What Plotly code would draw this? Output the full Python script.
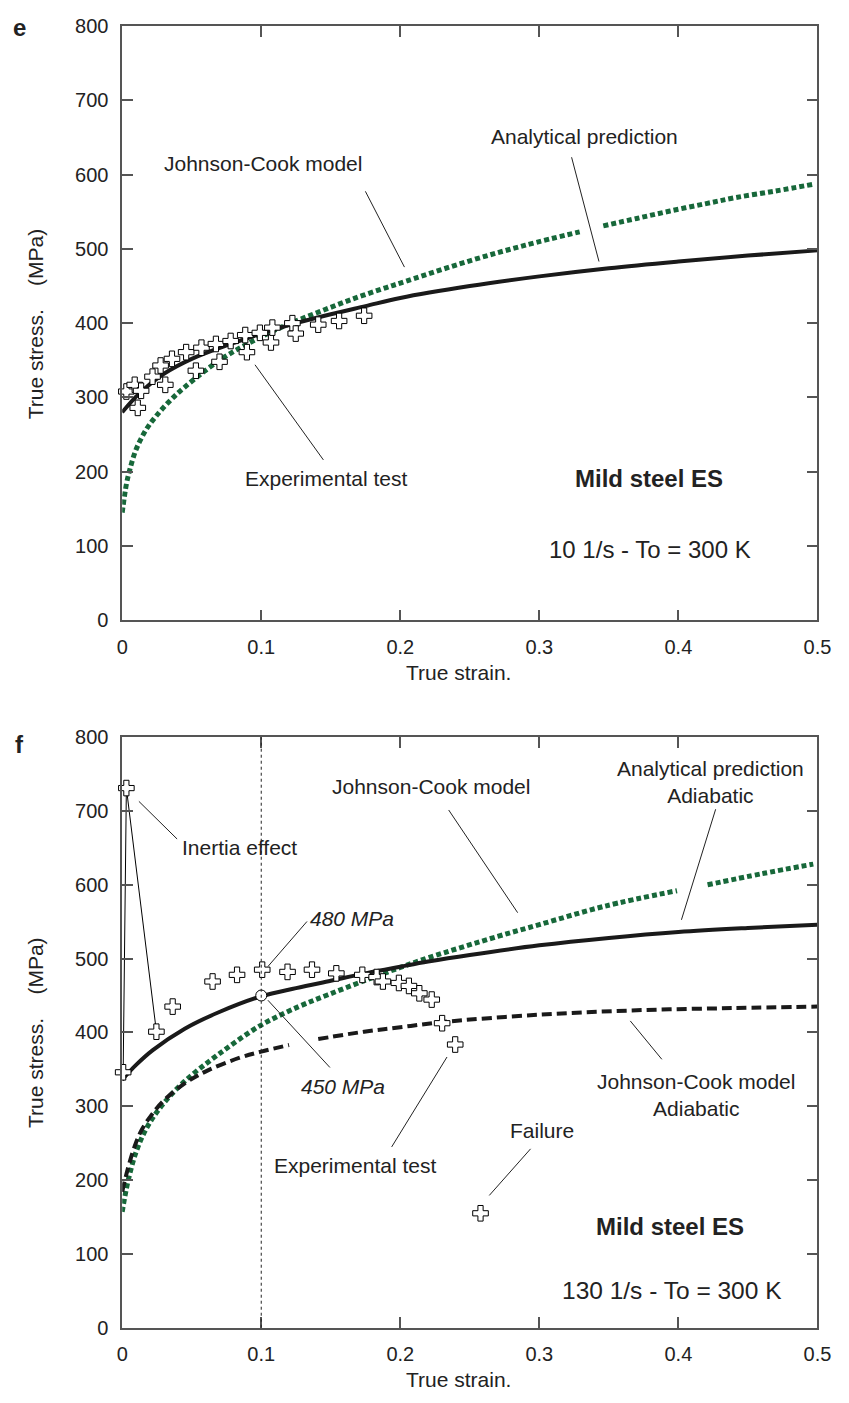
import plotly.graph_objects as go

# ---------------- panel e : 10 1/s ----------------
jc_e_strain_a = [0, 0.003, 0.0055, 0.01, 0.017, 0.024, 0.0335, 0.045, 0.07, 0.09,
                 0.115, 0.14, 0.165, 0.19, 0.2, 0.25, 0.29, 0.329]
jc_e_stress_a = [145, 183, 203, 230, 256, 274, 294, 314, 350, 372,
                 395, 414, 432, 448, 454, 484, 505, 523]
jc_e_strain_b = [0.346, 0.37, 0.394, 0.42, 0.441, 0.47, 0.497]
jc_e_stress_b = [531, 541, 551, 561, 569, 578, 587]

an_e_strain = [0, 0.01, 0.02, 0.03, 0.05, 0.075, 0.1, 0.125, 0.15, 0.175,
               0.2, 0.25, 0.3, 0.35, 0.4, 0.45, 0.5]
an_e_stress = [280, 301, 318, 332, 352, 370, 386, 400, 412, 423,
               434, 450, 463, 474, 483, 491, 498]

exp_e_strain = [0.003, 0.009, 0.0136, 0.0112, 0.0218, 0.0276, 0.031, 0.0358, 0.046,
                0.057, 0.053, 0.0674, 0.07, 0.078, 0.0885, 0.0897, 0.099, 0.107,
                0.108, 0.1224, 0.1248, 0.141, 0.156, 0.174]
exp_e_stress = [308, 317, 309, 286, 328, 343, 317, 352, 361,
                367, 336, 372, 348, 376, 384, 361, 387, 374,
                394, 400, 386, 398, 403, 410]

# ---------------- panel f : 130 1/s ----------------
jc_f_strain_a = [0, 0.004, 0.01, 0.018, 0.029, 0.045, 0.069, 0.1, 0.127, 0.148,
                 0.174, 0.2, 0.22, 0.27, 0.3, 0.347, 0.399]
jc_f_stress_a = [157, 197, 238, 272, 302, 334, 370, 410, 435, 451,
                 470, 488, 501, 530, 546, 571, 592]
jc_f_strain_b = [0.421, 0.46, 0.497]
jc_f_stress_b = [600, 615, 628]

an_f_strain = [0, 0.01, 0.022, 0.045, 0.069, 0.1, 0.125, 0.15, 0.175, 0.2,
               0.22, 0.25, 0.3, 0.35, 0.4, 0.45, 0.5]
an_f_stress = [336, 356, 376, 405, 427, 449, 460, 470, 480, 489,
               496, 505, 518, 528, 536, 541.5, 546]

jca_f_strain_a = [0, 0.004, 0.009, 0.014, 0.021, 0.029, 0.045, 0.062, 0.085, 0.1, 0.12]
jca_f_stress_a = [184, 215, 246, 268, 288, 306, 331, 349, 366, 374, 383]
jca_f_strain_b = [0.141, 0.174, 0.2, 0.23, 0.3, 0.37, 0.44, 0.5]
jca_f_stress_b = [391, 401, 407, 414, 424, 430, 433, 435]

exp_f_strain = [0.0007, 0.003, 0.0246, 0.0363, 0.065, 0.0826, 0.1007, 0.1189, 0.1365,
                0.154, 0.1727, 0.183, 0.1875, 0.199, 0.2062, 0.2137, 0.2226, 0.2301,
                0.2395, 0.2577]
exp_f_stress = [346, 731, 401, 435, 469, 478, 485, 482, 485,
                480, 478, 475, 469, 467, 463, 453, 444.5, 412.5,
                383.6, 155]

marked_strain = [0.1]
marked_stress = [450]

x_ticks = [0, 0.1, 0.2, 0.3, 0.4, 0.5]
x_tick_text = ["0", "0.1", "0.2", "0.3", "0.4", "0.5"]
y_ticks = [0, 100, 200, 300, 400, 500, 600, 700, 800]

FONT = "Liberation Sans, Arial, Helvetica, sans-serif"
TXT = "#222222"
GREEN = "#17683a"
W, H = 849, 1403

fig = go.Figure()


def green(x, y, ax):
    fig.add_trace(go.Scatter(x=x, y=y, mode="lines", xaxis=ax[0], yaxis=ax[1],
                             line=dict(color=GREEN, width=5, dash="5px,3px", shape="spline"),
                             showlegend=False, hoverinfo="skip"))


def black(x, y, ax, dash="solid"):
    fig.add_trace(go.Scatter(x=x, y=y, mode="lines", xaxis=ax[0], yaxis=ax[1],
                             line=dict(color="#1a1a1a", width=4, dash=dash, shape="spline"),
                             showlegend=False, hoverinfo="skip"))


def crosses(x, y, ax):
    fig.add_trace(go.Scatter(x=x, y=y, mode="markers", xaxis=ax[0], yaxis=ax[1],
                             marker=dict(symbol="cross", size=13, color="white",
                                         line=dict(color="black", width=1)),
                             cliponaxis=False, showlegend=False, hoverinfo="skip"))


E = ("x", "y")
F = ("x2", "y2")

# panel e
green(jc_e_strain_a, jc_e_stress_a, E)
green(jc_e_strain_b, jc_e_stress_b, E)
black(an_e_strain, an_e_stress, E)
crosses(exp_e_strain, exp_e_stress, E)

# panel f
green(jc_f_strain_a, jc_f_stress_a, F)
green(jc_f_strain_b, jc_f_stress_b, F)
black(jca_f_strain_a, jca_f_stress_a, F, dash="10px,5px")
black(jca_f_strain_b, jca_f_stress_b, F, dash="10px,5px")
black(an_f_strain, an_f_stress, F)

# inertia spike joining the first experimental points
fig.add_trace(go.Scatter(x=exp_f_strain[:3], y=exp_f_stress[:3], mode="lines",
                         xaxis="x2", yaxis="y2", line=dict(color="black", width=1),
                         showlegend=False, hoverinfo="skip"))
crosses(exp_f_strain, exp_f_stress, F)
fig.add_trace(go.Scatter(x=marked_strain, y=marked_stress, mode="markers",
                         xaxis="x2", yaxis="y2",
                         marker=dict(symbol="circle", size=11, color="white",
                                     line=dict(color="black", width=1)),
                         cliponaxis=False, showlegend=False, hoverinfo="skip"))


def px(x):
    return x / W


def py(y):
    return 1 - y / H


axis_common = dict(showline=True, linecolor="#555555", linewidth=1.5,
                   mirror="ticks", ticks="inside", ticklen=11, tickwidth=1.5,
                   tickcolor="#555555", showgrid=False, zeroline=False,
                   tickfont=dict(family=FONT, size=20, color=TXT))

xa = dict(axis_common, range=[0, 0.5], tickvals=x_ticks, ticktext=x_tick_text,
          ticklabelstandoff=8)
ya = dict(axis_common, range=[0, 800], tickvals=y_ticks, ticklabelstandoff=8)

fig.update_layout(
    width=W, height=H, margin=dict(l=0, r=0, t=0, b=0),
    paper_bgcolor="white", plot_bgcolor="white",
    xaxis=dict(xa, domain=[px(119), px(831)], anchor="y"),
    yaxis=dict(ya, domain=[py(619), py(15.3)], anchor="x"),
    xaxis2=dict(xa, domain=[px(119), px(831)], anchor="y2"),
    yaxis2=dict(ya, domain=[py(1337.7), py(737.7)], anchor="x2"),
)

shapes = []


def pointer(x0, y0, x1, y1, xr, yr):
    shapes.append(dict(type="line", xref=xr, yref=yr, x0=x0, y0=y0, x1=x1, y1=y1,
                       line=dict(color="#222222", width=1)))


# panel e pointers
pointer(0.1749, 577.5, 0.2030, 475.5, "x", "y")
pointer(0.3232, 623.4, 0.3429, 483.0, "x", "y")
pointer(0.0955, 344.0, 0.1447, 215.9, "x", "y")
# panel f pointers
pointer(0.2348, 701.3, 0.2844, 562.2, "x2", "y2")
pointer(0.4268, 702.3, 0.4022, 552.5, "x2", "y2")
pointer(0.1329, 550.3, 0.1048, 489.3, "x2", "y2")
pointer(0.1048, 443.6, 0.1494, 352.5, "x2", "y2")
pointer(0.1938, 244.9, 0.2336, 366.7, "x2", "y2")
pointer(0.3654, 415.6, 0.3881, 363.6, "x2", "y2")
pointer(0.2937, 242.3, 0.2640, 179.2, "x2", "y2")
pointer(0.0120, 713.0, 0.0395, 662.0, "x2", "y2")
# vertical reference at strain 0.1
shapes.append(dict(type="line", xref="x2", yref="y2", x0=0.1, x1=0.1, y0=0, y1=800,
                   line=dict(color="#222222", width=1, dash="3px,3px")))
fig.update_layout(shapes=shapes)

ann = []


def label(text, x, y, size=21, bold=False, italic=False, angle=0, align="center"):
    if bold:
        text = "<b>" + text + "</b>"
    if italic:
        text = "<i>" + text + "</i>"
    ann.append(dict(text=text, x=px(x), y=py(y), xref="paper", yref="paper",
                    showarrow=False, xanchor="center", yanchor="middle", textangle=angle,
                    align=align, font=dict(family=FONT, size=size, color=TXT)))


# panel e texts
label("e", 14, 17, size=24, bold=True)
label("True stress.&nbsp;&nbsp;&nbsp;&nbsp;(MPa)", 30, 318, angle=-90)
label("True strain.", 463, 672)
label("Johnson-Cook model", 263, 155)
label("Analytical prediction", 592, 128)
label("Experimental test", 328, 475)
label("Mild steel ES", 659, 475, size=24, bold=True)
label("10 1/s - To = 300 K", 660, 547, size=24)

# panel f texts
label("f", 14, 745, size=24, bold=True)
label("True stress.&nbsp;&nbsp;&nbsp;&nbsp;(MPa)", 30, 1038, angle=-90)
label("True strain.", 463, 1390)
label("Inertia effect", 239, 850)
label("Johnson-Cook model", 435, 788)
label("Analytical prediction<br>Adiabatic", 722, 783)
label("480 MPa", 354, 922, italic=True)
label("450 MPa", 345, 1093, italic=True)
label("Experimental test", 357, 1173)
label("Johnson-Cook model<br>Adiabatic", 707, 1101)
label("Failure", 549, 1137)
label("Mild steel ES", 680, 1235, size=24, bold=True)
label("130 1/s - To = 300 K", 682, 1300, size=24.5)

fig.update_layout(annotations=ann)

fig.write_html("out.html")
